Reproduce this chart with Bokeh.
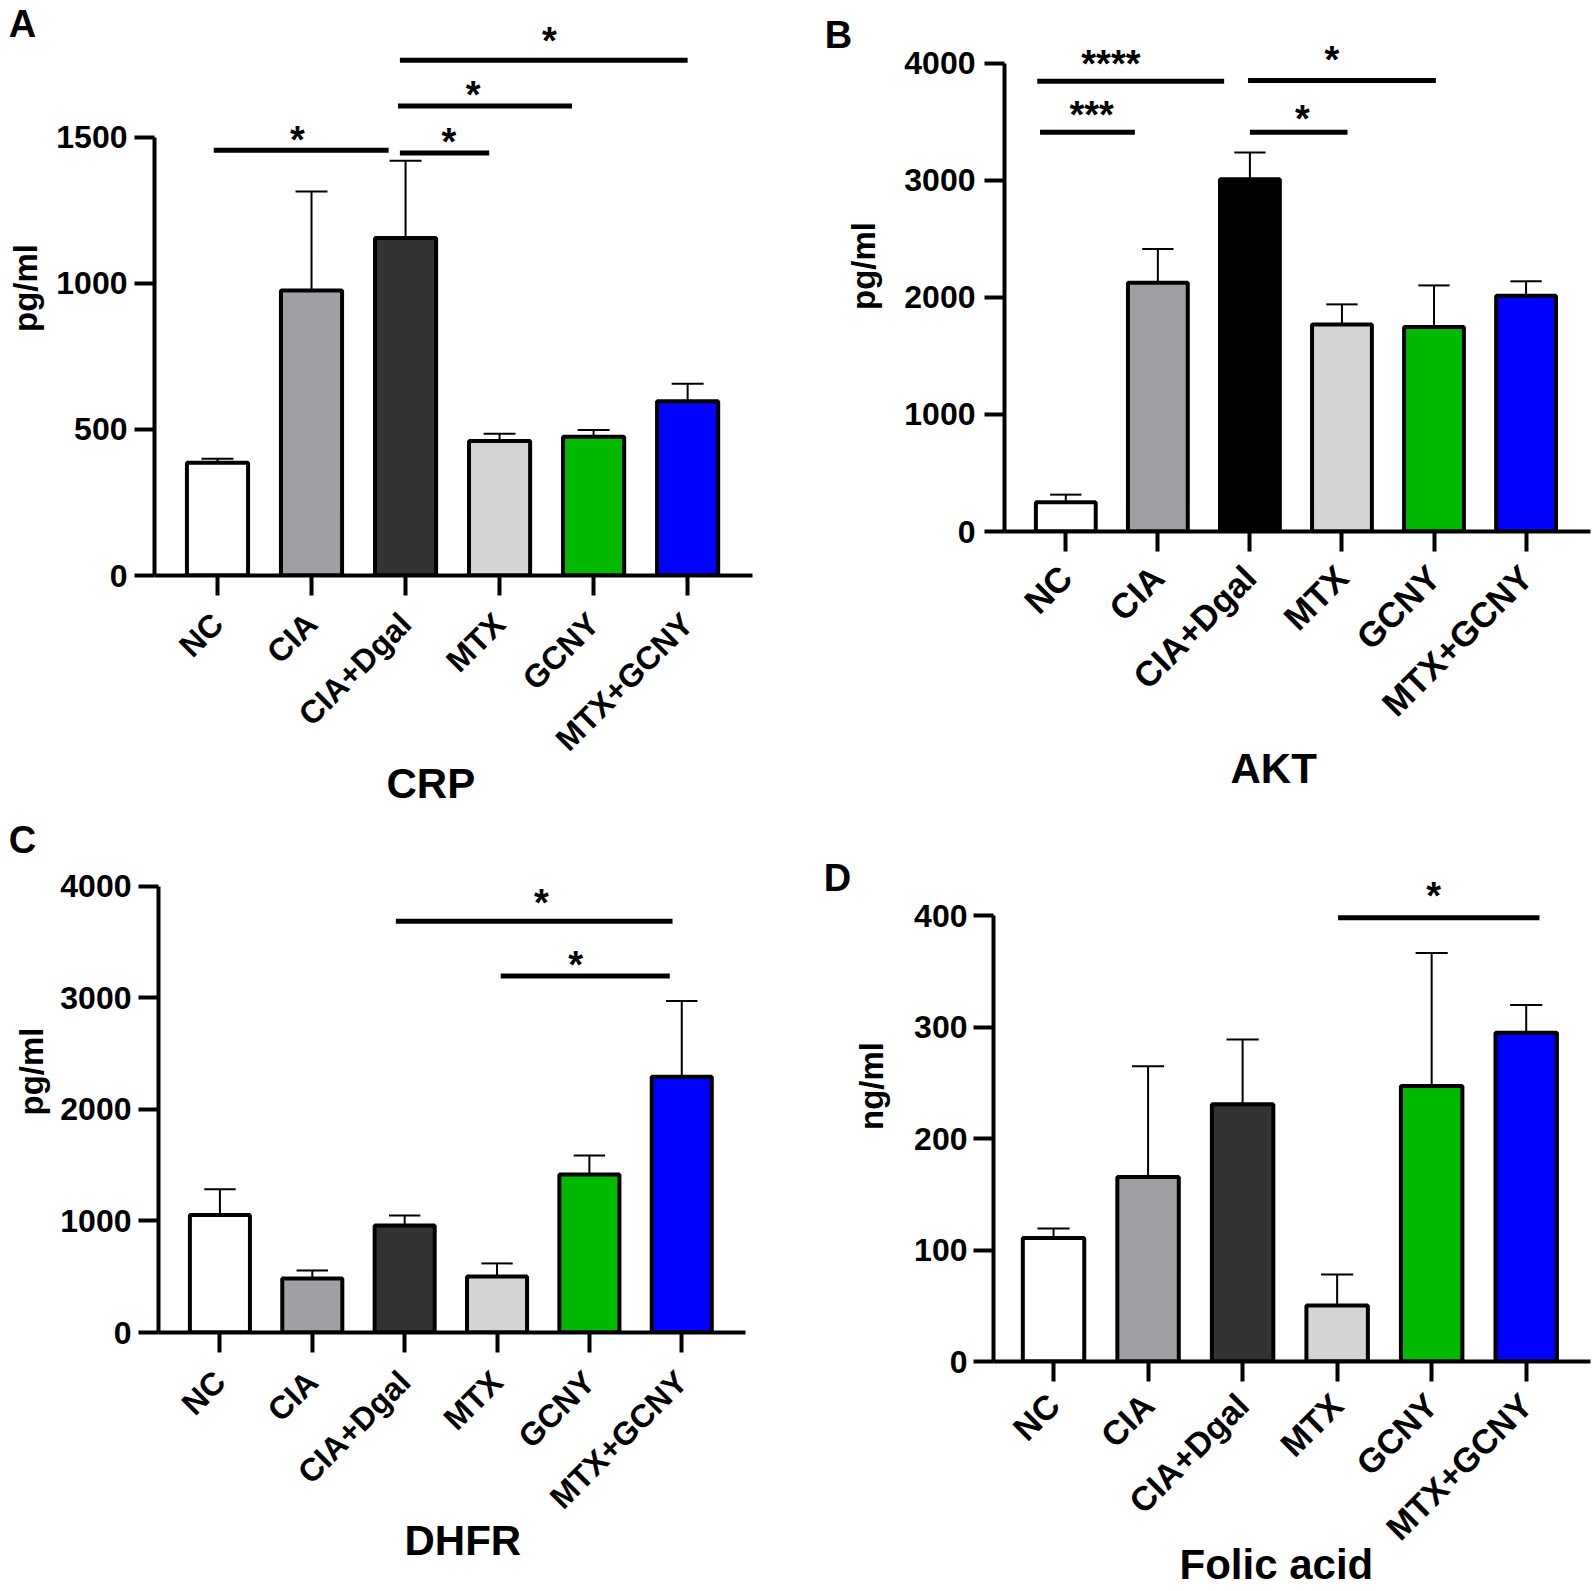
import math
from bokeh.plotting import figure
from bokeh.models import Range1d, FixedTicker, Label, ColumnDataSource, Title
from bokeh.layouts import column, row
from bokeh.embed import file_html
from bokeh.resources import INLINE
from bokeh.core.properties import value

FONT = "Liberation Sans"

groups = ["NC", "CIA", "CIA+Dgal", "MTX", "GCNY", "MTX+GCNY"]

# CRP (pg/ml)
crp_mean = [386, 976, 1156, 461, 475, 597]
crp_err = [14, 339, 264, 24, 23, 60]
crp_ticks = [0, 500, 1000, 1500]
crp_sig_x0 = [-0.04, 1.94, 1.92, 1.94]
crp_sig_x1 = [1.82, 2.89, 3.77, 5.0]
crp_sig_y = [1456, 1447, 1608, 1764]
crp_sig_tx = [0.85, 2.46, 2.72, 3.53]
crp_sig_ty = [1507, 1500, 1664, 1846]
crp_sig_txt = ["*", "*", "*", "*"]

# AKT (pg/ml)
akt_mean = [250, 2125, 3010, 1770, 1748, 2015]
akt_err = [65, 289, 228, 171, 355, 123]
akt_ticks = [0, 1000, 2000, 3000, 4000]
akt_sig_x0 = [-0.31, -0.28, 1.98, 2.0]
akt_sig_x1 = [1.72, 0.75, 4.02, 3.06]
akt_sig_y = [3847, 3413, 3855, 3413]
akt_sig_tx = [0.49, 0.28, 2.89, 2.57]
akt_sig_ty = [4039, 3601, 4075, 3571]
akt_sig_txt = ["****", "***", "*", "*"]

# DHFR (pg/ml)
dhfr_mean = [1053, 484, 958, 502, 1415, 2292]
dhfr_err = [231, 72, 91, 117, 171, 678]
dhfr_ticks = [0, 1000, 2000, 3000, 4000]
dhfr_sig_x0 = [1.905, 3.04]
dhfr_sig_x1 = [4.90, 4.87]
dhfr_sig_y = [3684, 3195]
dhfr_sig_tx = [3.48, 3.85]
dhfr_sig_ty = [3889, 3335]
dhfr_sig_txt = ["*", "*"]

# Folic acid (ng/ml)
folic_mean = [110.7, 165.5, 230.8, 50.3, 247.2, 294.8]
folic_err = [8.6, 99.4, 58.1, 27.7, 119.2, 24.9]
folic_ticks = [0, 100, 200, 300, 400]
folic_sig_x0 = [3.01]
folic_sig_x1 = [5.14]
folic_sig_y = [398]
folic_sig_tx = [4.02]
folic_sig_ty = [422]
folic_sig_txt = ["*"]

colors_grey = ["#FFFFFF", "#A09FA4", "#333333", "#D4D4D4", "#00B900", "#0000FF"]
colors_black = ["#FFFFFF", "#A09FA4", "#000000", "#D4D4D4", "#00B900", "#0000FF"]


def make_panel(mean, err, colors, ticks, ylabel, title, letter,
               sx0, sx1, sy, stx, sty, stxt,
               height, xr, ymax, bl, br, bb, xstd, xfs,
               tick_std, ylab_std, title_offset, title_standoff,
               letter_side, letter_pos):
    p = figure(width=796, height=height, x_range=Range1d(*xr), y_range=Range1d(0, ymax),
               output_backend="svg", toolbar_location=None, title=None,
               frame_align=False,
               min_border_left=bl, min_border_right=br, min_border_top=0,
               min_border_bottom=bb)
    p.outline_line_color = None
    p.grid.visible = False

    xs = list(range(len(mean)))
    tops = [m + e for m, e in zip(mean, err)]
    src = ColumnDataSource(dict(x=xs, top=mean, etop=tops, color=colors,
                                cl=[x - 0.17 for x in xs], cr=[x + 0.17 for x in xs]))
    p.vbar(x="x", top="top", width=0.65, fill_color="color", line_color="black",
           line_width=4, source=src)
    p.segment(x0="x", y0="top", x1="x", y1="etop", line_width=2, line_color="black", source=src)
    p.segment(x0="cl", y0="etop", x1="cr", y1="etop", line_width=2, line_color="black", source=src)

    p.segment(x0=sx0, y0=sy, x1=sx1, y1=sy, line_width=5, line_color="black")
    p.text(x=stx, y=sty, text=stxt, text_font=value(FONT), text_font_style="bold",
           text_font_size="38px", text_align="center", text_baseline="middle",
           y_offset=5, text_color="black")

    xa = p.xaxis[0]
    ya = p.yaxis[0]
    for ax in (xa, ya):
        ax.axis_line_width = 4
        ax.axis_line_color = "black"
        ax.major_tick_line_width = 4
        ax.major_tick_line_color = "black"
        ax.major_tick_in = 0
        ax.major_tick_out = 20
        ax.minor_tick_line_color = None
        ax.major_label_text_font = FONT
        ax.major_label_text_font_style = "bold"
        ax.major_label_text_font_size = "32px"
        ax.major_label_text_color = "black"
    xa.ticker = FixedTicker(ticks=xs)
    xa.major_label_overrides = {i: g for i, g in enumerate(groups)}
    xa.major_label_orientation = math.pi / 4
    xa.major_label_standoff = xstd
    xa.major_label_text_font_size = xfs
    ya.ticker = FixedTicker(ticks=ticks)
    ya.bounds = (ticks[0], ticks[-1])
    ya.major_label_standoff = tick_std
    ya.axis_label = ylabel
    ya.axis_label_text_font = FONT
    ya.axis_label_text_font_style = "bold"
    ya.axis_label_text_font_size = "33px"
    ya.axis_label_text_color = "black"
    ya.axis_label_standoff = ylab_std

    p.add_layout(Title(text=title, align="left", offset=title_offset,
                       standoff=title_standoff, vertical_align="middle",
                       text_font=FONT, text_font_style="bold", text_font_size="42px",
                       text_color="black"), "below")
    p.add_layout(Label(x=letter_pos[0], y=letter_pos[1], x_units="canvas", y_units="canvas",
                       text=letter, text_font=FONT, text_font_style="bold",
                       text_font_size="38px", text_align="center", text_baseline="middle",
                       text_color="black"), letter_side)
    return p


pA = make_panel(crp_mean, crp_err, colors_grey, crp_ticks, "pg/ml", "CRP", "A",
                crp_sig_x0, crp_sig_x1, crp_sig_y, crp_sig_tx, crp_sig_ty, crp_sig_txt,
                810, (-0.67, 5.69), 1969, 154, 44, 235, 23, "32px",
                7, 9, 232, -29, "right", (22, 23))
pB = make_panel(akt_mean, akt_err, colors_black, akt_ticks, "pg/ml", "AKT", "B",
                akt_sig_x0, akt_sig_x1, akt_sig_y, akt_sig_tx, akt_sig_ty, akt_sig_txt,
                810, (-0.666, 5.70), 4538, 208, 2, 279, 20, "35px",
                9, 19, 226, 6, "left", (42, 34))
pC = make_panel(dhfr_mean, dhfr_err, colors_grey, dhfr_ticks, "pg/ml", "DHFR", "C",
                dhfr_sig_x0, dhfr_sig_x1, dhfr_sig_y, dhfr_sig_tx, dhfr_sig_ty, dhfr_sig_txt,
                780, (-0.665, 5.69), 4677, 158, 51, 258, 24, "32px",
                7, 7, 246, -31, "right", (22, 29))
pD = make_panel(folic_mean, folic_err, colors_grey, folic_ticks, "ng/ml", "Folic acid", "D",
                folic_sig_x0, folic_sig_x1, folic_sig_y, folic_sig_tx, folic_sig_ty, folic_sig_txt,
                780, (-0.635, 5.68), 494.2, 197, 2, 229, 18, "34px",
                6, 21, 186, -48, "left", (41, 67))

layout = column(row(pA, pB), row(pC, pD))
open("out.html", "w").write(file_html(layout, INLINE))
